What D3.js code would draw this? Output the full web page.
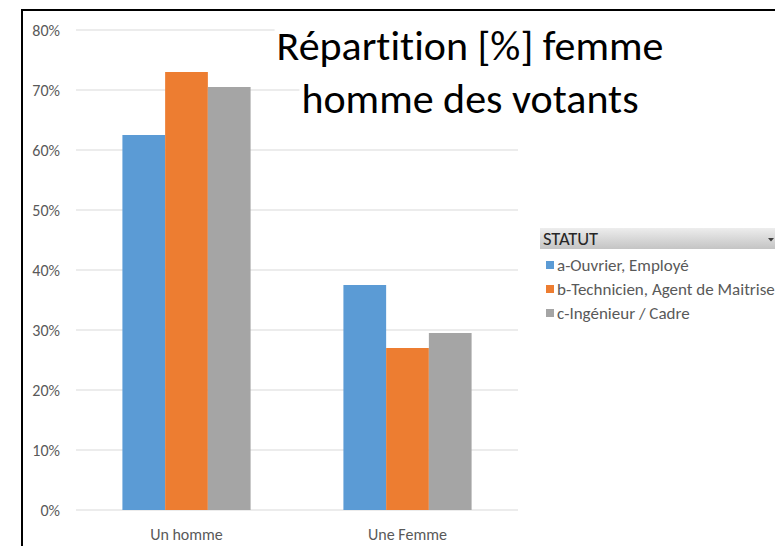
<!DOCTYPE html>
<html>
<head>
<meta charset="utf-8">
<script src="https://cdn.jsdelivr.net/npm/d3@7"></script>
<style>
  body { margin: 0; background: #fff; }
  svg { display: block; }
  text { font-variant-ligatures: none; }
</style>
</head>
<body>
<div id="chart"></div>
<script>
'use strict'

// data
const categories = ['Un homme', 'Une Femme']
const series = ['a-Ouvrier, Employé', 'b-Technicien, Agent de Maitrise', 'c-Ingénieur / Cadre']
const values = [
    [62.5, 37.5],   // a-Ouvrier, Employé
    [73, 27],       // b-Technicien, Agent de Maitrise
    [70.5, 29.5]    // c-Ingénieur / Cadre
]
const yTicks = [0, 10, 20, 30, 40, 50, 60, 70, 80]
const titleLines = ['Répartition [%] femme', 'homme des votants']
const legendTitle = 'STATUT'

const colors = ['#5b9bd5', '#ed7d31', '#a5a5a5']
const font = 'Carlito, Lato, sans-serif'

const svgWidth = 775
const svgHeight = 546
const plot = { left: 76, right: 518, top: 30, bottom: 510 }

const svg = d3.select('#chart')
    .append('svg')
    .attr('width', svgWidth)
    .attr('height', svgHeight)

// frame (only left and top edges are visible in the picture)
svg.append('path')
    .attr('d', `M22,${svgHeight + 5} L22,10 L${svgWidth + 5},10`)
    .attr('fill', 'none')
    .attr('stroke', '#000')
    .attr('stroke-width', 2)

const y = d3.scaleLinear().domain([0, 80]).range([plot.bottom, plot.top])
const x0 = d3.scaleBand().domain(categories).range([plot.left, plot.right])
    .paddingInner(0.42).paddingOuter(0.21)
const x1 = d3.scaleBand().domain(series).range([0, x0.bandwidth()])

// gridlines
svg.append('g')
    .selectAll('line')
    .data(yTicks)
    .join('line')
    .attr('x1', plot.left)
    .attr('x2', plot.right)
    .attr('y1', d => y(d))
    .attr('y2', d => y(d))
    .attr('stroke', '#d9d9d9')
    .attr('stroke-width', 1)

// y axis labels
const yAxis = svg.append('g')
    .attr('transform', `translate(${plot.left},0)`)
    .call(d3.axisLeft(y).tickValues(yTicks).tickFormat(d => d + '%').tickSize(0).tickPadding(16))
yAxis.select('.domain').remove()
yAxis.selectAll('text')
    .attr('font-family', font)
    .attr('font-size', 16)
    .attr('fill', '#595959')

// bars
const groups = svg.append('g')
    .selectAll('g')
    .data(categories)
    .join('g')
    .attr('transform', d => `translate(${x0(d)},0)`)

groups.selectAll('rect')
    .data((c, ci) => series.map((s, si) => ({ s, si, v: values[si][ci] })))
    .join('rect')
    .attr('x', d => x1(d.s))
    .attr('width', x1.bandwidth())
    .attr('y', d => y(d.v))
    .attr('height', d => y(0) - y(d.v))
    .attr('fill', d => colors[d.si])

// x axis labels
const xAxis = svg.append('g')
    .attr('transform', `translate(0,${plot.bottom})`)
    .call(d3.axisBottom(x0).tickSize(0))
xAxis.select('.domain').remove()
xAxis.selectAll('text')
    .attr('y', 30)
    .attr('dy', 0)
    .attr('font-family', font)
    .attr('font-size', 16)
    .attr('fill', '#595959')

// title, with a white box behind each line
const title = svg.append('g')
titleLines.forEach((t, i) => {
    const line = title.append('g')
    const txt = line.append('text')
        .attr('x', 470)
        .attr('y', 60 + i * 53)
        .attr('text-anchor', 'middle')
        .attr('font-family', font)
        .attr('font-size', 42)
        .attr('fill', '#000')
        .text(t)
    const bb = txt.node().getBBox()
    line.insert('rect', 'text')
        .attr('x', bb.x - 2)
        .attr('y', bb.y + 6)
        .attr('width', bb.width + 4)
        .attr('height', bb.height - 6)
        .attr('fill', '#fff')
})

// legend
const defs = svg.append('defs')
const grad = defs.append('linearGradient')
    .attr('id', 'hdr')
    .attr('x1', 0).attr('y1', 0).attr('x2', 0).attr('y2', 1)
grad.append('stop').attr('offset', '0%').attr('stop-color', '#ededed')
grad.append('stop').attr('offset', '100%').attr('stop-color', '#c4c4c4')

const legend = svg.append('g').attr('transform', 'translate(540,228)')
legend.append('rect')
    .attr('width', 240)
    .attr('height', 21)
    .attr('fill', 'url(#hdr)')
legend.append('text')
    .attr('x', 3)
    .attr('y', 16.5)
    .attr('font-family', font)
    .attr('font-size', 18.5)
    .attr('fill', '#262626')
    .text(legendTitle)
legend.append('path')
    .attr('d', 'M228,10 l6,0 l-3,3.5 z')
    .attr('fill', '#404040')

const items = legend.selectAll('.item')
    .data(series)
    .join('g')
    .attr('class', 'item')
    .attr('transform', (d, i) => `translate(0,${37 + i * 24})`)
items.append('rect')
    .attr('x', 6)
    .attr('y', -4)
    .attr('width', 8)
    .attr('height', 8)
    .attr('fill', (d, i) => colors[i])
items.append('text')
    .attr('x', 17)
    .attr('y', 6)
    .attr('font-family', font)
    .attr('font-size', 17)
    .attr('fill', '#595959')
    .text(d => d)
</script>
</body>
</html>
